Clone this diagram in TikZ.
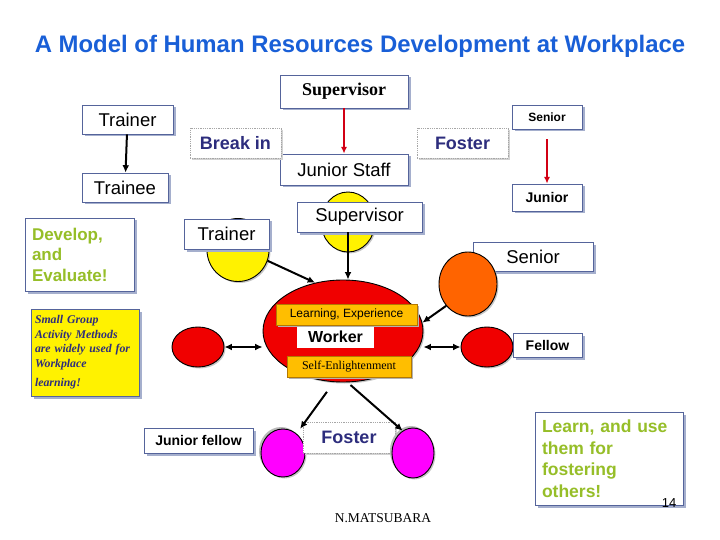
\documentclass[tikz,border=0pt]{standalone}
\usepackage{fontspec}
\setmainfont{Liberation Sans}
\newfontfamily\timesfont{Liberation Serif}
\usepackage{xcolor}
\usepackage{tikz}
\usetikzlibrary{arrows.meta,positioning,shapes.geometric,shadows}
\definecolor{titleblue}{RGB}{25,95,215}
\definecolor{boxline}{RGB}{85,100,155}
\definecolor{shadowblue}{RGB}{165,175,205}
\definecolor{navy}{RGB}{45,45,125}
\definecolor{leafgreen}{RGB}{150,190,40}
\definecolor{gold}{RGB}{255,190,0}
\definecolor{tagline}{RGB}{180,120,0}
\definecolor{redball}{RGB}{240,0,0}
\definecolor{orangeball}{RGB}{255,100,0}
\definecolor{magentaball}{RGB}{255,0,255}
\definecolor{arrowred}{RGB}{210,0,20}
\newcommand{\fsz}[2]{\fontsize{#1}{#2}\selectfont}

\begin{document}
\begin{tikzpicture}[
  x=1pt, y=-1pt,
  box/.style={draw=boxline, line width=0.8pt, fill=white, inner sep=2pt,
              drop shadow={shadow xshift=2.5pt, shadow yshift=-2.5pt,
                           fill=shadowblue, opacity=1}},
  dotbox/.style={draw=gray!70, densely dotted, line width=0.8pt, fill=white,
                 text=navy, font=\fsz{18}{22}\bfseries,
                 drop shadow={shadow xshift=2pt, shadow yshift=-2pt,
                              fill=gray!35, opacity=1}},
  ball/.style={ellipse, draw=black, line width=0.9pt, inner sep=0pt,
               drop shadow={shadow xshift=1.5pt, shadow yshift=-1.5pt,
                            fill=gray!45, opacity=1}},
  magball/.style={ball, fill=magentaball,
                  drop shadow={shadow xshift=-2pt, shadow yshift=2pt,
                               fill=gray!55, opacity=1}},
  tag/.style={draw=tagline, fill=gold, line width=0.6pt, inner sep=1pt,
              drop shadow={shadow xshift=2pt, shadow yshift=-2pt,
                           fill=gray!60, opacity=1}},
  lbl/.style={font=\fsz{18.5}{22}},
  arr/.style={-{Latex[length=2.6mm, width=2.4mm]}, line width=2pt},
  darr/.style={{Latex[length=2.6mm, width=2.4mm]}-{Latex[length=2.6mm, width=2.4mm]},
               line width=2pt},
  redarr/.style={-{Latex[length=2.4mm, width=2.2mm]}, draw=arrowred, line width=1.5pt}
]
\useasboundingbox (0,0) rectangle (720,540);
% title
\node[font=\fsz{23.9}{28}\bfseries, text=titleblue] (title) at (360,46)
  {A Model of Human Resources Development at Workplace};
% top row
\node[box, minimum width=128, minimum height=33, font=\timesfont\fsz{18}{22}\bfseries]
  (supT) at (344,91.5) {Supervisor};
\node[box, lbl, minimum width=128, minimum height=31] (jstaff) at (344,169.5) {Junior Staff};
\node[box, lbl, minimum width=91, minimum height=29] (trainT) at (127.5,119.5) {Trainer};
\node[box, lbl, minimum width=86, minimum height=29] (trainee) at (125,187.5) {Trainee};
\node[dotbox, minimum width=91, minimum height=30] (breakin) at (235.5,143) {Break in};
\node[dotbox, minimum width=91, minimum height=30] (fosterT) at (462.5,143) {Foster};
\node[box, minimum width=70, minimum height=24, font=\fsz{12}{14}\bfseries]
  (seniorT) at (547,117) {Senior};
\node[box, minimum width=70, minimum height=27, font=\fsz{14}{16}\bfseries]
  (juniorT) at (547,197.5) {Junior};
% side notes
\node[box, minimum width=109, minimum height=73, text width=95, inner xsep=7,
      align=left, text=leafgreen, font=\fsz{17}{20.5}\bfseries]
  (develop) at (79.5,254.5) {Develop,\\and\\Evaluate!};
\node[box, fill=yellow, minimum width=108, minimum height=87, text width=100,
      inner xsep=4, align=left, text=navy, font=\timesfont\fsz{11.8}{14.5}\bfseries\itshape]
  (smallgrp) at (85,352.5)
  {Small Group\\Activity Methods\\are widely used for\\Workplace\\[5pt]learning!};
% people around the worker
\node[ball, fill=yellow, minimum width=62, minimum height=63] (trc) at (238,250) {};
\node[ball, fill=yellow, minimum width=54, minimum height=60] (supc) at (348,222) {};
\node[box, lbl, minimum width=85, minimum height=30] (trainM) at (226.5,234) {Trainer};
\node[box, lbl, minimum width=125, minimum height=30] (supM) at (359.5,217) {Supervisor};
\node[box, lbl, minimum width=120, minimum height=29] (seniorM) at (533,256.5) {Senior};
\node[ball, fill=orangeball, minimum width=58, minimum height=64] (senc) at (468,284) {};
\node[ball, fill=redball, minimum width=160, minimum height=102] (work) at (343,331) {};
\node[ball, fill=redball, minimum width=52, minimum height=40] (lc) at (198,347) {};
\node[ball, fill=redball, minimum width=52, minimum height=40] (fc) at (487,347) {};
\node[box, minimum width=69, minimum height=24, font=\fsz{14}{16}\bfseries]
  (fellow) at (547.5,345) {Fellow};
% worker labels
\node[fill=white, minimum width=77, minimum height=22, inner sep=0pt,
      font=\fsz{16}{18}\bfseries] (wlabel) at (335.5,337) {Worker};
\node[tag, minimum width=141, minimum height=21, font=\fsz{12}{14}]
  (learn) at (346.5,314.5) {Learning, Experience};
\node[tag, minimum width=124, minimum height=21, font=\timesfont\fsz{12}{14}]
  (selfen) at (349,366.5) {Self-Enlightenment};
% bottom row
\node[magball, minimum width=44, minimum height=48] (magL) at (283,453) {};
\node[dotbox, minimum width=92, minimum height=31] (fosterB) at (349,437.5) {Foster};
\node[magball, minimum width=42, minimum height=50] (magR) at (413,453) {};
\node[box, minimum width=109, minimum height=25, font=\fsz{14}{16}\bfseries]
  (jfellow) at (198.5,440.5) {Junior fellow};
\node[box, minimum width=148, minimum height=93, text width=134, inner xsep=7,
      align=left, text=leafgreen, font=\fsz{17.5}{21.5}\bfseries]
  (learnuse) at (609,458.5) {Learn, and use\\them for\\fostering\\others!};
\node[font=\timesfont\fsz{13.5}{16}] (author) at (383,518) {N.MATSUBARA};
\node[font=\fsz{13}{15}] (pageno) at (669,503) {14};
% arrows
\draw[redarr] (supT) -- (jstaff);
\draw[redarr, shorten <=10pt] (seniorT) -- (juniorT);
\draw[arr] (trainT) -- (trainee);
\draw[arr] (trc.-20) -- (work.120);
\draw[arr] (supM.south -| supc) -- (work.north -| supc);
\draw[arr] (senc.225) -- (work.6);
\draw[darr] (lc.east) -- (lc.east -| work.west);
\draw[darr] (fc.west) -- (fc.west -| work.east);
\draw[arr, shorten <=12pt, shorten >=6pt] (work.-100) -- (magL.55);
\draw[arr, shorten <=4pt] (work.-85) -- (magR.115);
\end{tikzpicture}
\end{document}
